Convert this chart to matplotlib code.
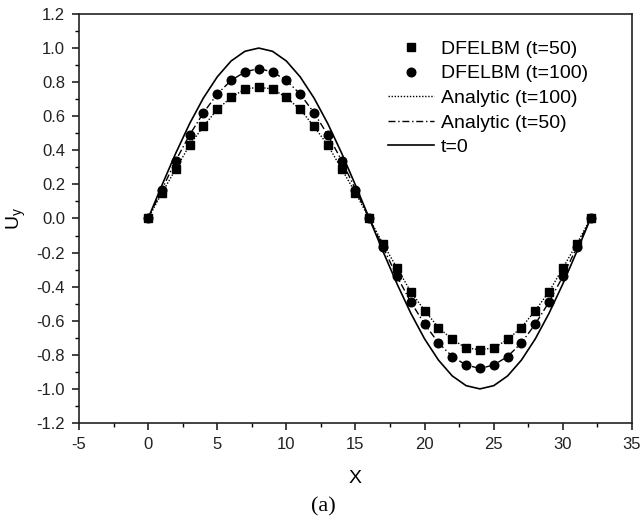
import matplotlib
matplotlib.use("Agg")
import matplotlib.pyplot as plt
from matplotlib.ticker import MultipleLocator

x = list(range(0, 33))

# DFELBM (t=50) squares
u_t50 = [0.0, 0.15, 0.29, 0.43, 0.54, 0.64, 0.71, 0.76, 0.77, 0.76, 0.71, 0.64, 0.54, 0.43, 0.29, 0.15, 0.0,
         -0.15, -0.29, -0.43, -0.54, -0.64, -0.71, -0.76, -0.77, -0.76, -0.71, -0.64, -0.54, -0.43, -0.29, -0.15, 0.0]
# DFELBM (t=100) circles
u_t100 = [0.0, 0.17, 0.34, 0.49, 0.62, 0.73, 0.81, 0.86, 0.88, 0.86, 0.81, 0.73, 0.62, 0.49, 0.34, 0.17, 0.0,
          -0.17, -0.34, -0.49, -0.62, -0.73, -0.81, -0.86, -0.88, -0.86, -0.81, -0.73, -0.62, -0.49, -0.34, -0.17, 0.0]
# Analytic curves
a_t100 = [0.0, 0.15, 0.29, 0.43, 0.54, 0.64, 0.71, 0.76, 0.77, 0.76, 0.71, 0.64, 0.54, 0.43, 0.29, 0.15, 0.0,
          -0.15, -0.29, -0.43, -0.54, -0.64, -0.71, -0.76, -0.77, -0.76, -0.71, -0.64, -0.54, -0.43, -0.29, -0.15, 0.0]
a_t50 = [0.0, 0.17, 0.34, 0.49, 0.62, 0.73, 0.81, 0.86, 0.88, 0.86, 0.81, 0.73, 0.62, 0.49, 0.34, 0.17, 0.0,
         -0.17, -0.34, -0.49, -0.62, -0.73, -0.81, -0.86, -0.88, -0.86, -0.81, -0.73, -0.62, -0.49, -0.34, -0.17, 0.0]
u_t0 = [0.0, 0.195, 0.383, 0.556, 0.707, 0.831, 0.924, 0.981, 1.0, 0.981, 0.924, 0.831, 0.707, 0.556, 0.383, 0.195, 0.0,
        -0.195, -0.383, -0.556, -0.707, -0.831, -0.924, -0.981, -1.0, -0.981, -0.924, -0.831, -0.707, -0.556, -0.383, -0.195, 0.0]

xticks = [-5, 0, 5, 10, 15, 20, 25, 30, 35]
yticks = [-1.2, -1.0, -0.8, -0.6, -0.4, -0.2, 0.0, 0.2, 0.4, 0.6, 0.8, 1.0, 1.2]

plt.rcParams['font.family'] = ['Liberation Sans', 'DejaVu Sans']

fig = plt.figure(figsize=(6.41, 5.22), dpi=100)
ax = fig.add_axes([0.1232, 0.1897, 0.8628, 0.7835])

ax.plot(x, u_t50, linestyle='none', marker='s', markersize=5.5, color='black', label='DFELBM (t=50)')
ax.plot(x, u_t100, linestyle='none', marker='o', markersize=6.2, color='black', label='DFELBM (t=100)')
ax.plot(x, a_t100, linestyle=(0, (1, 1.2)), linewidth=1.0, color='black', label='Analytic (t=100)')
ax.plot(x, a_t50, linestyle=(0, (5, 2, 1, 2)), linewidth=1.0, color='black', label='Analytic (t=50)')
ax.plot(x, u_t0, linestyle='-', linewidth=1.2, color='black', label='t=0')

ax.set_xlim(-5, 35)
ax.set_ylim(-1.2, 1.2)
ax.set_xticks(xticks)
ax.set_yticks(yticks)
ax.set_xticklabels([str(v) for v in xticks])
ax.set_yticklabels([f"{v:.1f}" for v in yticks])
ax.xaxis.set_minor_locator(MultipleLocator(2.5))
ax.yaxis.set_minor_locator(MultipleLocator(0.1))
ax.tick_params(which='major', direction='out', length=5, width=1.2, labelsize=12, pad=5, colors='#222222')
ax.tick_params(which='minor', direction='out', length=3, width=1.0)
ax.tick_params(top=False, right=False, which='both')
for s in ax.spines.values():
    s.set_linewidth(1.2)
    s.set_color('#222222')

ax.set_xlabel('X', fontsize=14, labelpad=13)
ax.set_ylabel(r'$\mathregular{U_y}$', fontsize=14, labelpad=6)

ax.legend(loc='upper right', frameon=False, fontsize=14, handlelength=2.4, handletextpad=0.35,
          labelspacing=0.36, borderaxespad=0.0, bbox_to_anchor=(0.935, 0.955))

fig.text(0.505, 0.029, '(a)', family=['Liberation Serif', 'DejaVu Serif'], fontsize=16, ha='center', va='center')

fig.savefig('out.png', dpi=100)
